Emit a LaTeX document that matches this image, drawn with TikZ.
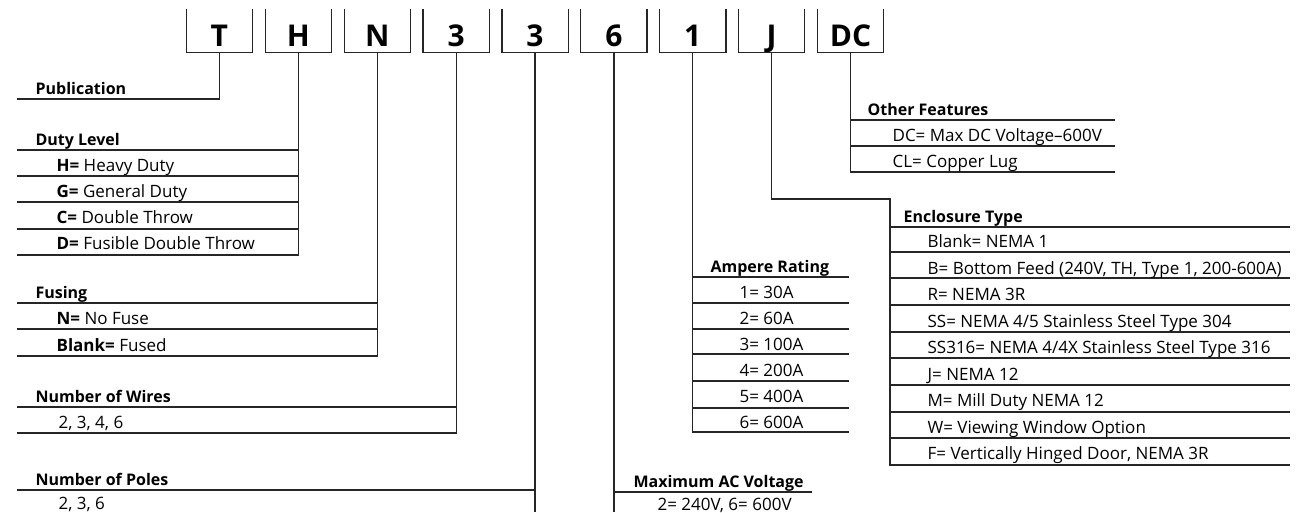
\documentclass[tikz,border=0pt]{standalone}
\usepackage{fontspec}
\setmainfont{Open Sans}
\usepackage{tikz}

\begin{document}
\begin{tikzpicture}[x=1pt,y=-1pt,line width=1.2pt,draw=black!85,
    codebox/.style={minimum width=65pt,minimum height=42pt,inner sep=0pt,
        text height=30pt,text depth=0pt,font=\fontsize{30}{30}\selectfont\bfseries},
    head/.style={anchor=base west,inner sep=0pt,font=\fontsize{16}{16}\selectfont\bfseries},
    item/.style={anchor=base west,inner sep=0pt,font=\fontsize{17}{17}\selectfont}]
\useasboundingbox (0,0) rectangle (1296,512);

% the code boxes, open at the top
\foreach \t [count=\i] in {T,H,N,3,3,6,1,J,DC} {
    \node[codebox] (b\i) at ({140.5+78.9*\i},31) {\t};
    \draw (b\i.north west) -- (b\i.south west) -- (b\i.south east) -- (b\i.north east);
}

% Publication
\coordinate (pubL) at (17,99);
\node[head] (pub) at (35,94) {Publication};
\draw (b1.south) |- (pubL);

% Duty Level
\coordinate (dutyL) at (17,255);
\node[head] (duty) at (35,145) {Duty Level};
\draw (b2.south) |- (dutyL);
\foreach \y in {150,176,202,229}
    \draw (17,\y) -- (b2.south |- 17,\y);
\foreach \k/\v [count=\j] in {H/Heavy Duty,G/General Duty,C/Double Throw,D/Fusible Double Throw}
    \node[item] (duty\j) at (56,{144.7+26.3*\j}) {\textbf{\k=} \v};

% Fusing
\coordinate (fuseL) at (17,356);
\node[head] (fuse) at (35,298) {Fusing};
\draw (b3.south) |- (fuseL);
\foreach \y in {303,329}
    \draw (17,\y) -- (b3.south |- 17,\y);
\node[item] (fuse1) at (56,324) {\textbf{N=} No Fuse};
\node[item] (fuse2) at (56,351) {\textbf{Blank=} Fused};

% Number of Wires
\coordinate (wireL) at (17,433);
\node[head] (wire) at (35,402) {Number of Wires};
\draw (b4.south) |- (wireL);
\draw (17,407) -- (b4.south |- 17,407);
\node[item] (wire1) at (58,428) {2, 3, 4, 6};

% Number of Poles
\coordinate (poleB) at (b5.south |- 17,512);
\node[head] (pole) at (35,485) {Number of Poles};
\draw (b5.south) -- (poleB);
\draw (17,490) -- (b5.south |- 17,490);
\node[item] (pole1) at (58,509) {2, 3, 6};

% Maximum AC Voltage
\coordinate (acB) at (b6.south |- 17,512);
\node[head] (ac) at (633,487) {Maximum AC Voltage};
\draw (b6.south) -- (acB);
\draw (b6.south |- 17,492) -- (812,492);
\node[item] (ac1) at (657,510) {2= 240V, 6= 600V};

% Ampere Rating
\coordinate (ampB) at (849,432);
\node[head] (amp) at (710,272) {Ampere Rating};
\draw (b7.south) |- (ampB);
\foreach \y in {277,303,329,354,381,408}
    \draw (b7.south |- 17,\y) -- (849,\y);
\foreach \v [count=\j] in {1= 30A,2= 60A,3= 100A,4= 200A,5= 400A,6= 600A}
    \node[item] (amp\j) at (739,{272+26*\j}) {\v};

% Enclosure Type
\coordinate (encT) at (890,199);
\coordinate (encB) at (890,465);
\node[head] (enc) at (903,222) {Enclosure Type};
\draw (b8.south) |- (encT) -- (encB) -- (1290,465);
\foreach \y in {227,252,278,305,332,358,385,412,438}
    \draw (890,\y) -- (1290,\y);
\foreach \v [count=\j] in {Blank= NEMA 1,B= Bottom Feed (240V{,} TH{,} Type 1{,} 200-600A),R= NEMA 3R,
        SS= NEMA 4/5 Stainless Steel Type 304,SS316= NEMA 4/4X Stainless Steel Type 316,J= NEMA 12,
        M= Mill Duty NEMA 12,W= Viewing Window Option,F= Vertically Hinged Door{,} NEMA 3R}
    \node[item] (enc\j) at (927,{221+26.5*\j}) {\v};

% Other Features
\coordinate (othB) at (1115,172);
\node[head] (oth) at (867,115) {Other Features};
\draw (b9.south) |- (othB);
\foreach \y in {120,146}
    \draw (b9.south |- 17,\y) -- (1115,\y);
\node[item] (oth1) at (892,141) {DC= Max DC Voltage--600V};
\node[item] (oth2) at (892,167) {CL= Copper Lug};
\end{tikzpicture}
\end{document}
